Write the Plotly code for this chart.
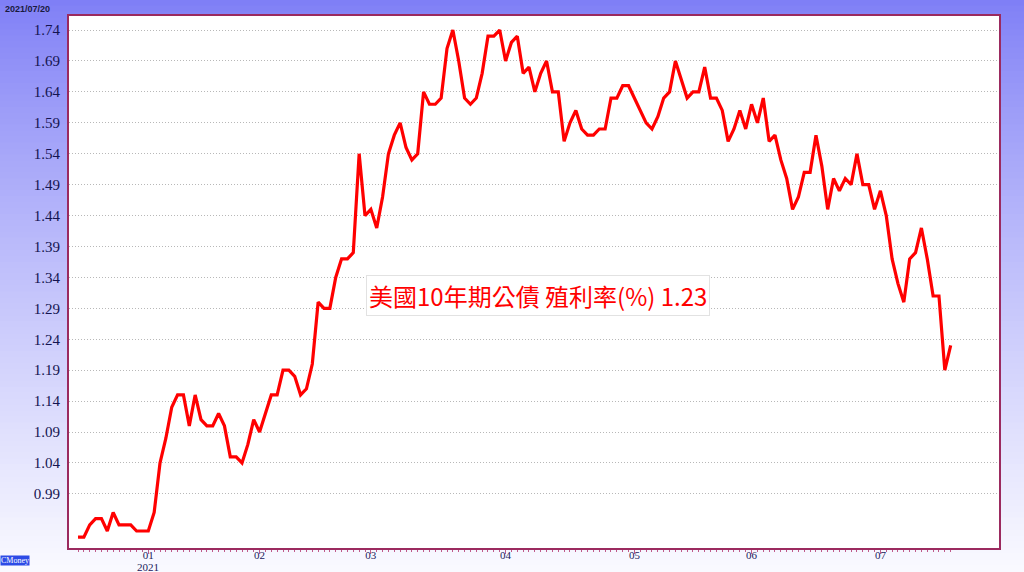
import plotly.graph_objects as go

# ---- data (US 10Y Treasury yield, daily, 2020/12/15 - 2021/07/20) ----
yields = [
    # Dec 2020 + Jan 4
    0.92, 0.92, 0.94, 0.95, 0.95, 0.93, 0.96, 0.94, 0.94, 0.94, 0.93, 0.93, 0.93,
    # Jan
    0.96, 1.04, 1.08, 1.13, 1.15, 1.15, 1.10, 1.15, 1.11, 1.10, 1.10, 1.12, 1.10,
    1.05, 1.05, 1.04, 1.07, 1.11,
    # Feb
    1.09, 1.12, 1.15, 1.15, 1.19, 1.19, 1.18, 1.15, 1.16, 1.20, 1.30, 1.29, 1.29,
    1.34, 1.37, 1.37, 1.38, 1.54, 1.44,
    # Mar
    1.45, 1.42, 1.47, 1.54, 1.57, 1.59, 1.55, 1.53, 1.54, 1.64, 1.62, 1.62, 1.63,
    1.71, 1.74, 1.69, 1.63, 1.62, 1.63, 1.67, 1.73, 1.73, 1.74,
    # Apr
    1.69, 1.72, 1.73, 1.67, 1.68, 1.64, 1.67, 1.69, 1.64, 1.64, 1.56, 1.59, 1.61,
    1.58, 1.57, 1.57, 1.58, 1.58, 1.63, 1.63, 1.65, 1.65,
    # May
    1.63, 1.61, 1.59, 1.58, 1.60, 1.63, 1.64, 1.69, 1.66, 1.63, 1.64, 1.64, 1.68,
    1.63, 1.63, 1.61, 1.56, 1.58, 1.61, 1.58,
    # Jun
    1.62, 1.59, 1.63, 1.56, 1.57, 1.53, 1.50, 1.45, 1.47, 1.51, 1.51, 1.57, 1.52,
    1.45, 1.50, 1.48, 1.50, 1.49, 1.54, 1.49, 1.49, 1.45,
    # Jul
    1.48, 1.44, 1.37, 1.33, 1.30, 1.37, 1.38, 1.42, 1.37, 1.31, 1.31, 1.19, 1.23,
]
day_index = list(range(len(yields)))

month_tick_index = [12, 31, 50, 73, 95, 115, 137]
month_tick_labels = ["01", "02", "03", "04", "05", "06", "07"]
year_label = "2021"
year_label_index = 12

y_tick_values = [0.99, 1.04, 1.09, 1.14, 1.19, 1.24, 1.29, 1.34, 1.39, 1.44,
                 1.49, 1.54, 1.59, 1.64, 1.69, 1.74]
y_tick_labels = [f"{v:.2f}" for v in y_tick_values]

title_text = "美國10年期公債 殖利率(%) 1.23"
date_text = "2021/07/20"
brand_text = "CMoney"

# ---- figure ----
W, H = 1024, 572
L, R, T, B = 69, 25, 16, 24
plot_h = H - T - B

fig = go.Figure()
fig.add_trace(go.Scatter(
    x=day_index, y=yields, mode="lines",
    line=dict(color="#FF0000", width=3.2),
    hoverinfo="y", showlegend=False,
))

# background vertical gradient (paper area)
n_bands = 96
shapes = []
for i in range(n_bands):
    t0 = i / n_bands
    t1 = (i + 1) / n_bands
    tm = (t0 + t1) / 2
    f = tm ** 0.85
    r = int(round(126 + (250 - 126) * f))
    g = int(round(126 + (250 - 126) * f))
    b = int(round(246 + (255 - 246) * f))
    py0 = (H - B - t0 * H) / plot_h
    py1 = (H - B - t1 * H) / plot_h
    shapes.append(dict(
        type="rect", xref="paper", yref="paper",
        x0=-0.1, x1=1.1, y0=py1 - 0.001, y1=py0 + 0.001,
        fillcolor=f"rgb({r},{g},{b})", line=dict(width=0), layer="below",
    ))
# white plotting area on top of the gradient
shapes.append(dict(type="rect", xref="paper", yref="paper", x0=0, x1=1, y0=0, y1=1,
                   fillcolor="#FFFFFF", line=dict(width=0), layer="below"))

px_to_paper_x = lambda px: (px - L) / (W - L - R)
px_to_paper_y = lambda py: (H - B - py) / plot_h

annotations = [
    dict(text=title_text, xref="paper", yref="paper",
         x=px_to_paper_x(538), y=px_to_paper_y(295),
         xanchor="center", yanchor="middle", showarrow=False,
         font=dict(family="Noto Sans CJK TC", size=24, color="#FF0000"),
         bgcolor="#FFFFFF", bordercolor="#E2E2E2", borderwidth=1, borderpad=2),
    dict(text=f"<b>{date_text}</b>", xref="paper", yref="paper",
         x=px_to_paper_x(3), y=px_to_paper_y(9),
         xanchor="left", yanchor="middle", showarrow=False,
         font=dict(family="Liberation Sans", size=9, color="#1A1A40")),
    dict(text=brand_text, xref="paper", yref="paper",
         x=px_to_paper_x(0), y=px_to_paper_y(560),
         xanchor="left", yanchor="middle", showarrow=False,
         font=dict(family="Liberation Serif", size=8, color="#FFFFFF"),
         bgcolor="#2D4BE6", borderpad=0),
    dict(text=year_label, xref="x", yref="paper",
         x=year_label_index, y=px_to_paper_y(567),
         xanchor="center", yanchor="middle", showarrow=False,
         font=dict(family="Liberation Serif", size=11, color="#1A1A5C")),
]

fig.update_layout(
    width=W, height=H,
    margin=dict(l=L, r=R, t=T, b=B, pad=0, autoexpand=False),
    paper_bgcolor="#F4F4FD",
    plot_bgcolor="#FFFFFF",
    shapes=shapes,
    annotations=annotations,
    xaxis=dict(
        range=[-1.54, 157.25],
        tickmode="array", tickvals=month_tick_index, ticktext=month_tick_labels,
        ticks="outside", ticklen=4, tickwidth=1, tickcolor="#C05A8A",
        ticklabelstandoff=-8,
        showgrid=False, zeroline=False, automargin=False,
        showline=True, linecolor="#9B2A5F", linewidth=2, mirror=True,
        tickfont=dict(family="Liberation Serif", size=11, color="#1A1A5C"),
        minor=dict(tickmode="array", tickvals=day_index, ticks="outside",
                   ticklen=2, tickwidth=1, tickcolor="#C05A8A", showgrid=False),
        fixedrange=True,
    ),
    yaxis=dict(
        range=[0.9025, 1.7627],
        tickmode="array", tickvals=y_tick_values, ticktext=y_tick_labels,
        ticks="", showgrid=True, gridcolor="#B8B8B8", griddash="1px,2px", gridwidth=1,
        zeroline=False, automargin=False,
        showline=True, linecolor="#9B2A5F", linewidth=2, mirror=True,
        tickfont=dict(family="Liberation Serif", size=15, color="#141450"),
        ticklabelstandoff=4,
        fixedrange=True,
    ),
)

fig.write_html("out.html", config={"displayModeBar": False},
               post_script="document.body.style.margin='0px';")
